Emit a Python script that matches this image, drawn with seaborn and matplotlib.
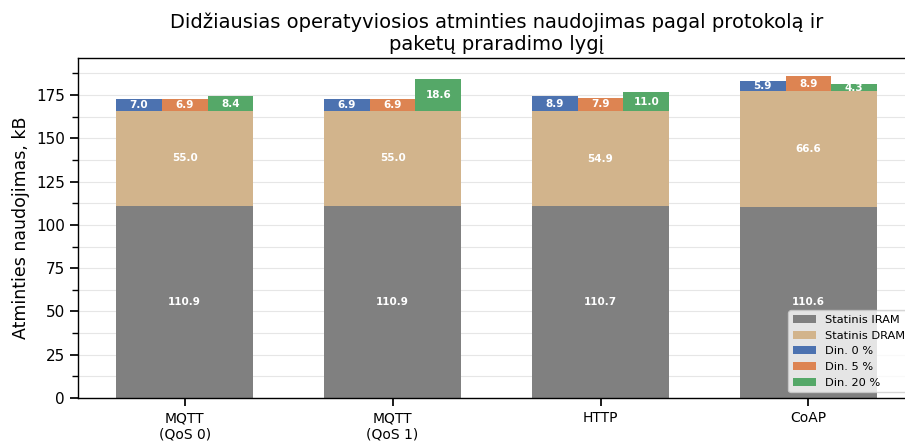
import numpy as np
import matplotlib
matplotlib.use("Agg")
import matplotlib.pyplot as plt
from matplotlib.ticker import AutoMinorLocator
import seaborn as sns

protokolai = ["MQTT\n(QoS 0)", "MQTT\n(QoS 1)", "HTTP", "CoAP"]
statinis_iram = [110.9, 110.9, 110.7, 110.6]
statinis_dram = [55.0, 55.0, 54.9, 66.6]
din_0 = [7.0, 6.9, 8.9, 5.9]
din_5 = [6.9, 6.9, 7.9, 8.9]
din_20 = [8.4, 18.6, 11.0, 4.3]

sns.set_theme(style="ticks", palette="deep")
plt.rcParams["font.family"] = ["DejaVu Sans"]
plt.rcParams["text.color"] = "black"
plt.rcParams["axes.labelcolor"] = "black"
plt.rcParams["xtick.color"] = "black"
plt.rcParams["ytick.color"] = "black"
spalvos = sns.color_palette("deep")

fig = plt.figure(figsize=(9.05, 4.41), dpi=100)
ax = fig.add_axes([0.0862, 0.0975, 0.925, 0.771])

x = np.arange(len(protokolai))
plotis = 0.22
iram = np.array(statinis_iram)
dram = np.array(statinis_dram)
pagrindas = iram + dram

b1 = ax.bar(x, iram, width=plotis * 3, color="#808080", linewidth=0,
            label="Statinis IRAM", zorder=2)
b2 = ax.bar(x, dram, width=plotis * 3, bottom=iram, color="#D2B48C", linewidth=0,
            label="Statinis DRAM", zorder=2)

dinaminiai = [(din_0, "Din. 0 %", spalvos[0], -plotis),
              (din_5, "Din. 5 %", spalvos[1], 0.0),
              (din_20, "Din. 20 %", spalvos[2], plotis)]

def uzrasai(bars, reiksmes, apacia):
    for b, v, a in zip(bars, reiksmes, apacia):
        ax.text(b.get_x() + b.get_width() / 2, a + v / 2, f"{v:.1f}",
                ha="center", va="center", color="white", fontsize=7.5,
                fontweight="bold", zorder=3)

uzrasai(b1, iram, np.zeros(len(iram)))
uzrasai(b2, dram, iram)

for reiksmes, pavadinimas, spalva, poslinkis in dinaminiai:
    bb = ax.bar(x + poslinkis, reiksmes, width=plotis, bottom=pagrindas,
                color=spalva, linewidth=0, label=pavadinimas, zorder=2)
    uzrasai(bb, reiksmes, pagrindas)

ax.set_xticks(x)
ax.set_xticklabels(protokolai, fontsize=10)
ax.tick_params(axis="y", labelsize=11)
ax.yaxis.set_minor_locator(AutoMinorLocator(2))
ax.grid(axis="y", which="both", color="#e6e6e6", linewidth=0.8, zorder=0)
ax.set_axisbelow(True)
ax.set_ylim(0, 196.4)
for s in ax.spines.values():
    s.set_color("black")
    s.set_linewidth(1.0)

ax.set_ylabel("Atminties naudojimas, kB", fontsize=12.5)
ax.set_title("Didžiausias operatyviosios atminties naudojimas pagal protokolą ir\npaketų praradimo lygį",
             fontsize=14)
ax.legend(loc="lower right", fontsize=8.2, frameon=True, framealpha=0.8)

fig.savefig("out.png", dpi=100)
